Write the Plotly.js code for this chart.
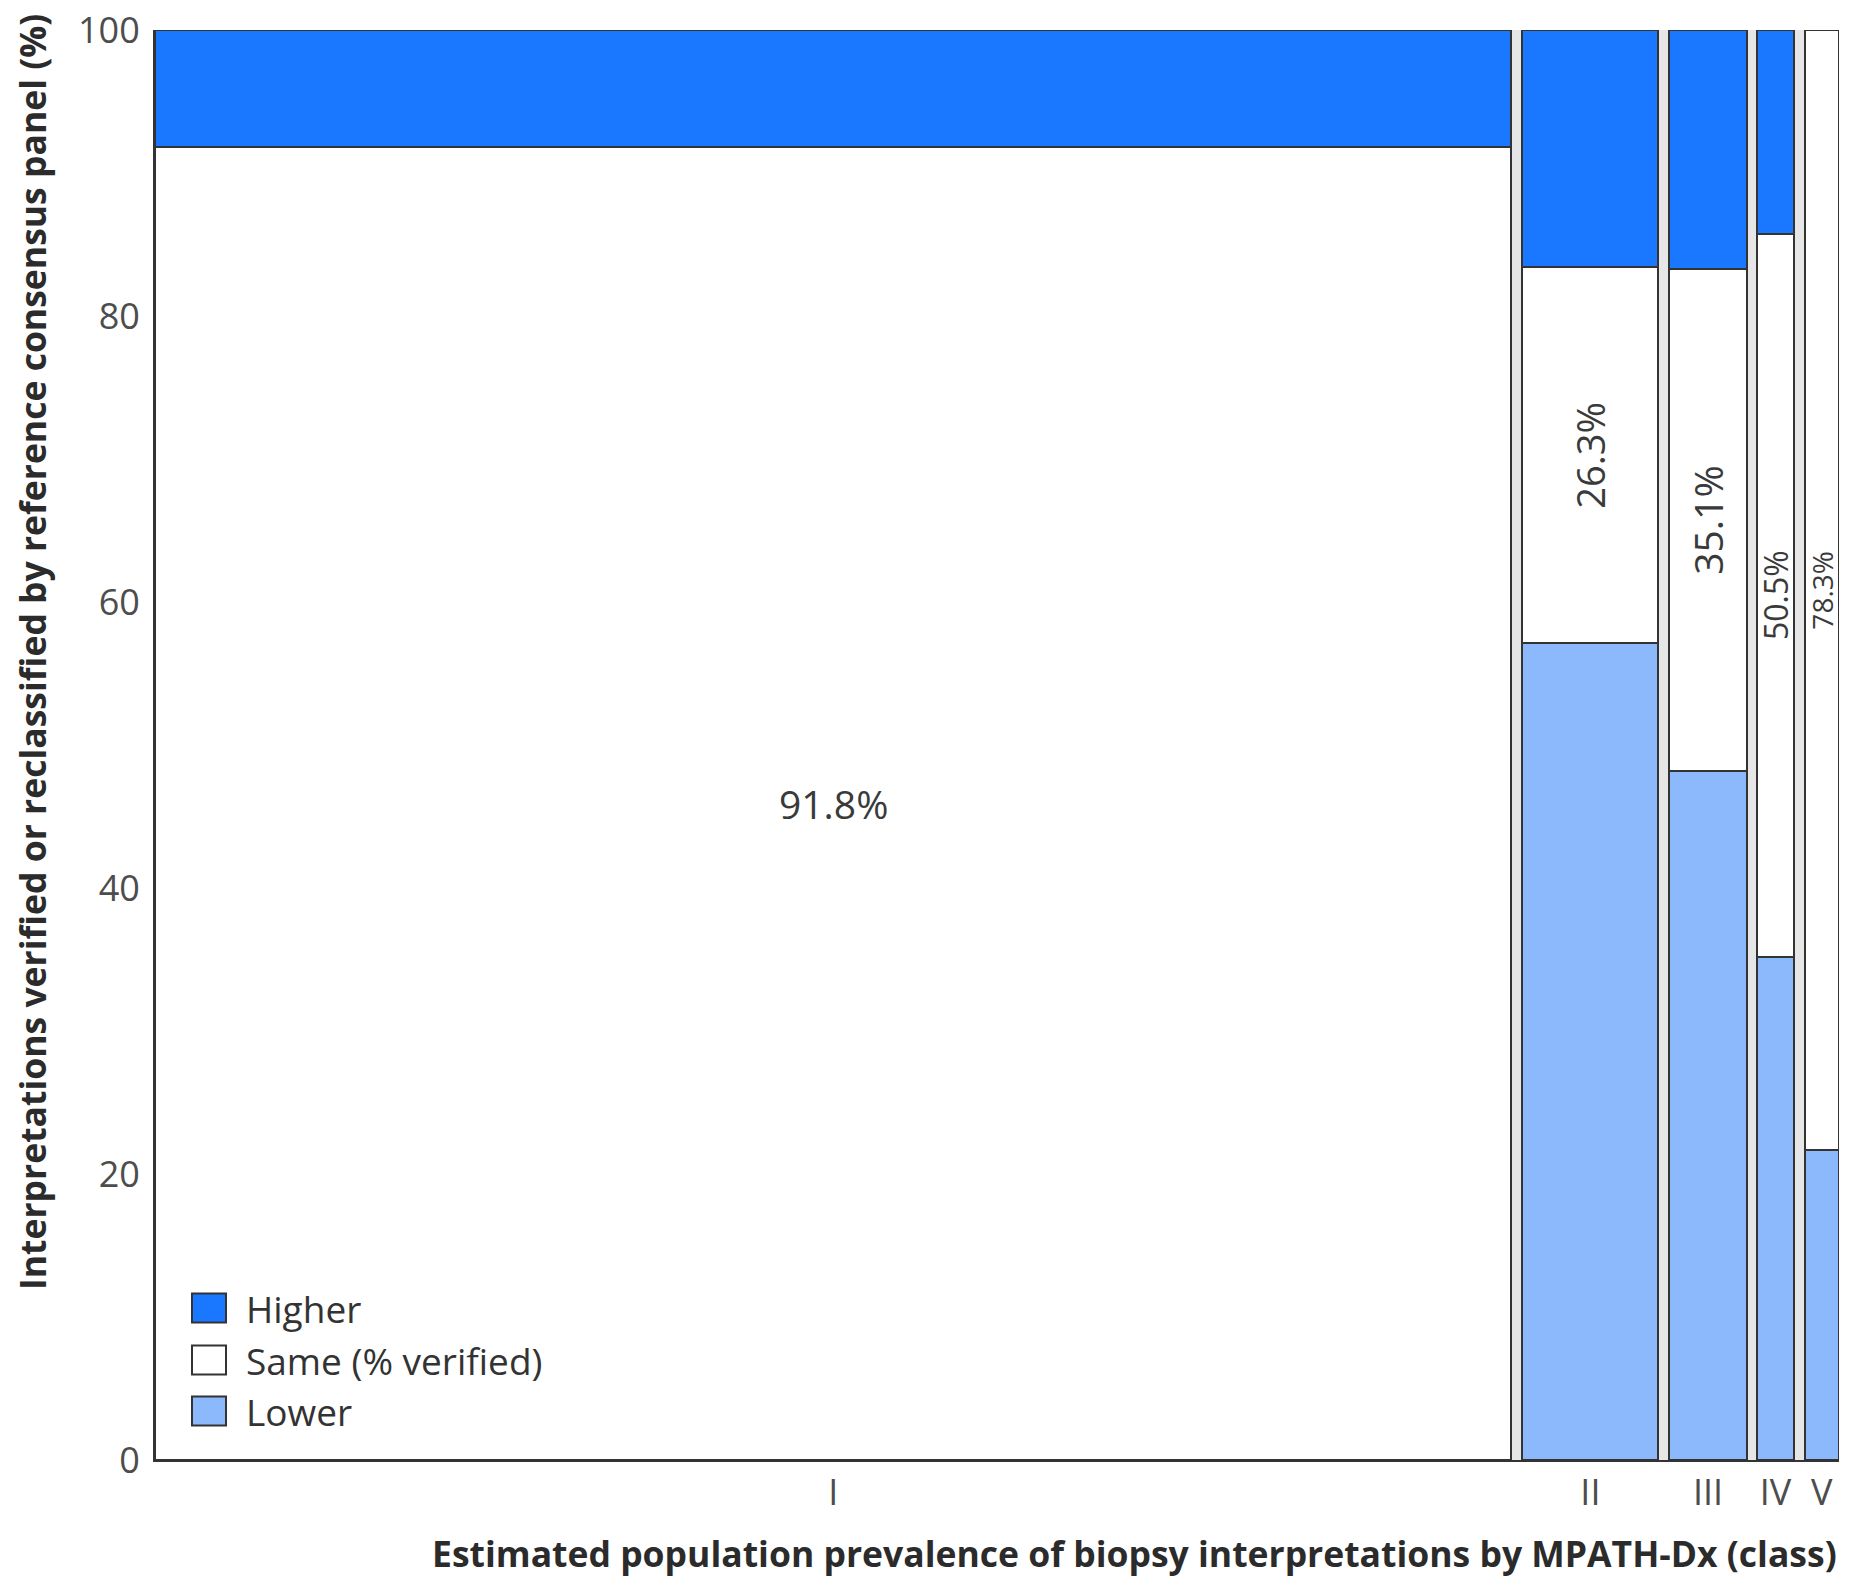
<!DOCTYPE html>
<html>
<head>
<meta charset="utf-8">
<script src="https://cdn.plot.ly/plotly-3.0.1.min.js"></script>
<style>html,body{margin:0;padding:0;background:#fff;}#chart{width:1864px;height:1582px;}</style>
</head>
<body>
<div id="chart"></div>
<script>
// ---- data ----
const classes = ['I', 'II', 'III', 'IV', 'V'];
const prevalence = [82.7, 8.3, 4.7, 2.2, 2.1];   // bar widths (estimated population prevalence, %)
const lower = [0, 57.1, 48.2, 35.2, 21.7];
const same = [91.8, 26.3, 35.1, 50.5, 78.3];
const higher = [8.2, 16.6, 16.7, 14.3, 0];
const sameLabels = ['91.8%', '26.3%', '35.1%', '50.5%', '78.3%'];
const seriesNames = ['Higher', 'Same (% verified)', 'Lower'];
const yTicks = [0, 20, 40, 60, 80, 100];

// ---- styles ----
const colHigher = '#1a77ff';
const colSame = '#ffffff';
const colLower = '#8bb9fb';
const outline = '#333333';
const FONT = 'Open Sans, Noto Sans, sans-serif';
const GAP = 0.67;                       // gap between columns, in x-units
const labelSizes = [39, 38, 39, 32, 28];

// compute column positions from the prevalence widths
const centers = [];
let acc = 0;
prevalence.forEach((w, i) => {
  centers.push(acc + w / 2);
  acc += w + (i < prevalence.length - 1 ? GAP : 0);
});
const xMax = acc;

function barTrace(name, vals, color) {
  return {
    type: 'bar', name: name, x: centers, y: vals, width: prevalence,
    marker: {color: color, line: {color: outline, width: 2}},
    showlegend: false, hoverinfo: 'name+y'
  };
}

const data = [
  barTrace('Lower', lower, colLower),
  barTrace('Same (% verified)', same, colSame),
  barTrace('Higher', higher, colHigher)
];

const annotations = [];
classes.forEach((c, i) => {
  annotations.push({
    xref: 'x', yref: 'y', x: centers[i], y: lower[i] + same[i] / 2,
    text: sameLabels[i], showarrow: false, textangle: i === 0 ? 0 : -90,
    font: {family: FONT, size: labelSizes[i], color: '#3a3a3a'},
    xanchor: 'center', yanchor: 'middle'
  });
});

// axis titles (end-aligned as in the reference)
annotations.push({
  xref: 'paper', yref: 'paper', x: 1, y: 0, xanchor: 'right', yanchor: 'middle',
  xshift: 0, yshift: -93, showarrow: false,
  text: 'Estimated population prevalence of biopsy interpretations by MPATH-Dx (class)',
  font: {family: FONT, size: 35.5, color: '#2b2b2b', weight: 'bold'}
});
annotations.push({
  xref: 'paper', yref: 'paper', x: 0, y: 1, xanchor: 'center', yanchor: 'top',
  xshift: -123, yshift: 18, showarrow: false, textangle: -90,
  text: 'Interpretations verified or reclassified by reference consensus panel (%)',
  font: {family: FONT, size: 35.5, color: '#2b2b2b', weight: 'bold'}
});

// custom legend (bottom-left inside the plot)
const legendColors = [colHigher, colSame, colLower];
const legendRows = [152, 100, 49];   // pixel offsets above plot bottom
const shapes = [];
seriesNames.forEach((n, i) => {
  shapes.push({
    type: 'rect', xref: 'paper', yref: 'paper',
    xsizemode: 'pixel', ysizemode: 'pixel', xanchor: 0, yanchor: 0,
    x0: 37, x1: 71, y0: legendRows[i] - 14.5, y1: legendRows[i] + 14.5,
    fillcolor: legendColors[i], line: {color: outline, width: 2}
  });
  annotations.push({
    xref: 'paper', yref: 'paper', x: 0, y: 0, xshift: 89, yshift: legendRows[i],
    xanchor: 'left', yanchor: 'middle', showarrow: false, text: n,
    font: {family: FONT, size: 37, color: '#333333'}
  });
});

const layout = {
  width: 1864, height: 1582,
  margin: {l: 155, r: 25, t: 30, b: 122},
  paper_bgcolor: '#ffffff', plot_bgcolor: '#e6e6e6',
  barmode: 'stack', showlegend: false,
  font: {family: FONT, color: '#4d4d4d'},
  xaxis: {
    range: [0, xMax], tickmode: 'array', tickvals: centers, ticktext: classes,
    showgrid: false, zeroline: false, showline: true, linecolor: outline, linewidth: 2,
    ticks: '', ticklabelstandoff: 0, tickfont: {family: FONT, size: 36, color: '#4d4d4d'},
    fixedrange: true
  },
  yaxis: {
    range: [0, 100], tickmode: 'array', tickvals: yTicks,
    showgrid: false, zeroline: false, showline: true, linecolor: outline, linewidth: 2,
    ticks: '', ticklabelstandoff: 6, tickfont: {family: FONT, size: 36, color: '#4d4d4d'},
    fixedrange: true
  },
  annotations: annotations,
  shapes: shapes
};

Plotly.newPlot('chart', data, layout, {displayModeBar: false, staticPlot: true});
</script>
</body>
</html>
